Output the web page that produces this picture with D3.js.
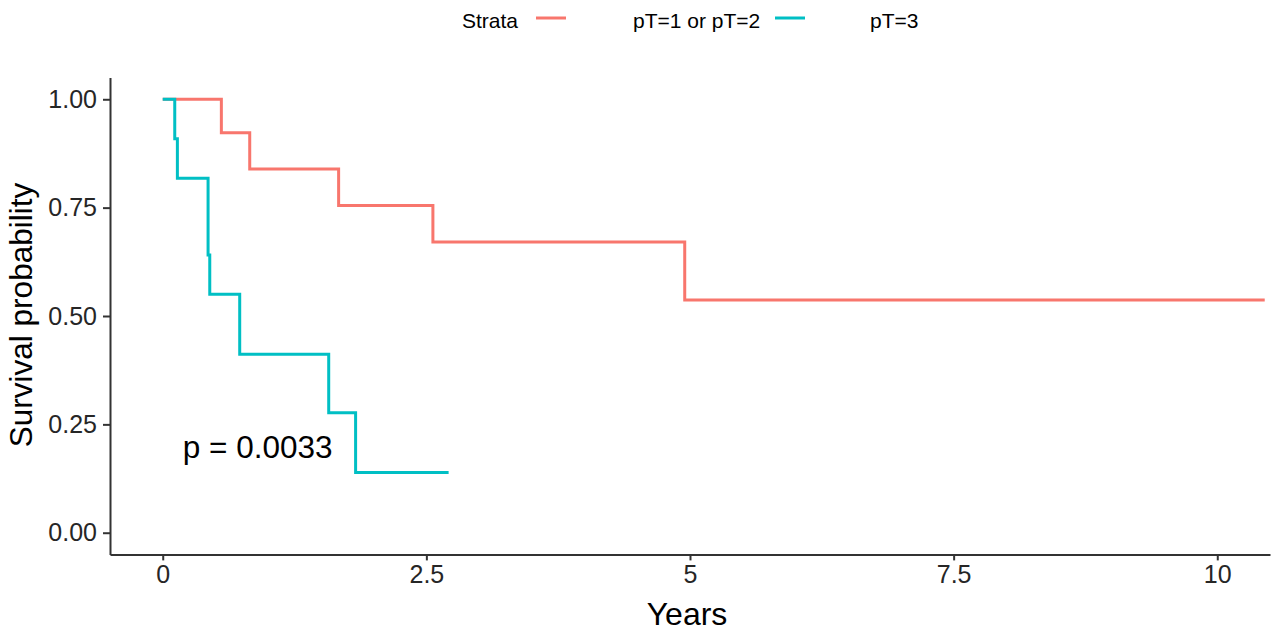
<meta charset="UTF-8">
<script src="https://cdn.jsdelivr.net/npm/d3@7"></script>

<svg id="km_chart"></svg>

<style>
 body { margin:0; background:#fff; }
 #km_chart { font-family:"Liberation Sans", Arial, sans-serif; }
 .axis path, .axis line { stroke:#333; stroke-width:2px; }
 .axis text { fill:#262626; font-size:25px; }
 .km_curve { fill:none; stroke-width:3px; }
</style>

<script type="text/javascript">
 // Kaplan-Meier steps
 var strata = ["pT=1 or pT=2", "pT=3"];
 var colors = ["#F8766D", "#00BFC4"];
 var times_low = [0, 0.556, 0.825, 1.668, 2.562, 4.95, 10.45];
 var surv_low  = [1, 0.923, 0.839, 0.755, 0.671, 0.537, 0.537];
 var times_high = [0, 0.114, 0.139, 0.43, 0.446, 0.73, 1.574, 1.829, 2.711];
 var surv_high  = [1, 0.909, 0.818, 0.641, 0.55, 0.412, 0.277, 0.139, 0.139];
 var xticks = [0, 2.5, 5, 7.5, 10];
 var yticks = [0, 0.25, 0.5, 0.75, 1];
 var pvalue = "p = 0.0033";

 var width = 1274, height = 632;
 var svg = d3.select("#km_chart").attr("width", width).attr("height", height);

 // scales (ggplot style 5% expansion)
 var xscale = d3.scaleLinear().domain([-0.5, 10.5]).range([110, 1270]);
 var yscale = d3.scaleLinear().domain([-0.05, 1.05]).range([554.4, 77.6]);

 var line = d3.line()
     .x(function (d){ return xscale(d[0]); })
     .y(function (d){ return yscale(d[1]); })
     .curve(d3.curveStepAfter);

 var series = [d3.zip(times_low, surv_low), d3.zip(times_high, surv_high)];
 series.forEach(function (s, i) {
     svg.append("path").attr("class", "km_curve")
	.attr("stroke", colors[i])
	.attr("d", line(s));
 });

 // Axes
 svg.append("g").attr("class", "axis")
    .attr("transform", "translate(0," + yscale(-0.05) + ")")
    .call(d3.axisBottom(xscale).tickValues(xticks).tickSize(6).tickSizeOuter(0).tickPadding(5)
	  .tickFormat(function (d){ return d3.format("")(d); }));

 svg.append("g").attr("class", "axis")
    .attr("transform", "translate(" + xscale(-0.5) + ",0)")
    .call(d3.axisLeft(yscale).tickValues(yticks).tickSize(7).tickSizeOuter(0).tickPadding(6)
	  .tickFormat(d3.format(".2f")));

 // Axis titles
 svg.append("text").attr("x", 687).attr("y", 625)
    .attr("text-anchor", "middle").attr("font-size", 32).attr("fill", "#000")
    .text("Years");
 svg.append("text").attr("transform", "translate(32,315) rotate(-90)")
    .attr("text-anchor", "middle").attr("font-size", 31.5).attr("fill", "#000")
    .text("Survival probability");

 // p-value
 svg.append("text").attr("x", xscale(0.19)).attr("y", yscale(0.18) + 3)
    .attr("font-size", 31.5).attr("fill", "#000")
    .text(pvalue);

 // Legend
 var legend = svg.append("g").attr("font-size", 21).attr("fill", "#000");
 legend.append("text").attr("x", 462).attr("y", 28).text("Strata");
 var keyX = [536, 775], labelX = [633, 870];
 strata.forEach(function (s, i) {
     legend.append("line")
	   .attr("x1", keyX[i]).attr("x2", keyX[i] + 30)
	   .attr("y1", 18).attr("y2", 18)
	   .attr("stroke", colors[i]).attr("stroke-width", 3);
     legend.append("text").attr("x", labelX[i]).attr("y", 28).text(s);
 });
</script>
